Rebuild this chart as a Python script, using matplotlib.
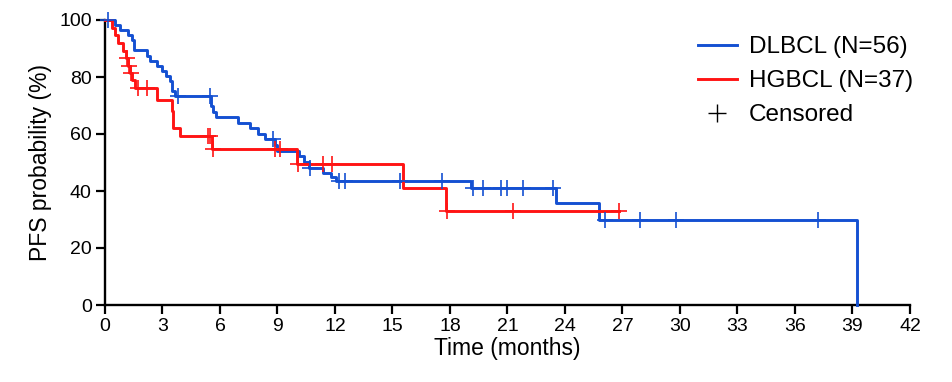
import numpy as np
import matplotlib
matplotlib.use("Agg")
import matplotlib.pyplot as plt

plt.rcParams['font.family'] = ['Liberation Sans', 'DejaVu Sans']

# ---- data ----
dlbcl_times = [0, 0.52, 0.78, 1.22, 1.40, 1.53, 2.17, 2.35, 2.70, 2.95, 3.20, 3.40, 3.50, 3.65,
               5.55, 5.65, 5.80, 6.96, 7.56, 8.00, 8.35, 8.85, 9.00, 10.10, 10.40, 10.65,
               11.40, 11.80, 12.05, 19.10, 23.55, 25.80, 39.26]
dlbcl_surv = [100, 98.2, 96.4, 94.6, 92.9, 89.3, 87.5, 85.7, 83.9, 82.1, 80.4, 78.6, 75.0, 73.2,
              69.7, 67.8, 65.9, 63.9, 62.0, 60.1, 58.2, 56.2, 54.2, 52.2, 50.2, 48.2,
              46.4, 45.0, 43.6, 41.0, 35.8, 29.9, 0]
dlbcl_censor = [0.15, 3.82, 5.48, 8.78, 10.72, 12.2, 12.5, 15.4, 17.6, 19.2, 19.7, 20.65,
                20.95, 21.8, 23.4, 26.1, 27.9, 29.8, 37.2]

hgbcl_times = [0, 0.35, 0.52, 0.70, 0.96, 1.10, 1.22, 1.30, 1.42, 1.55, 2.70, 3.47, 3.56,
               3.90, 5.56, 10.00, 15.56, 17.80, 26.80]
hgbcl_surv = [100, 97.3, 94.6, 91.9, 89.2, 86.5, 84.0, 81.4, 78.8, 76.2, 72.0, 68.2, 62.0,
              59.2, 54.6, 49.4, 41.2, 33.0, 33.0]
hgbcl_censor = [1.17, 1.26, 1.35, 1.74, 2.17, 5.39, 5.50, 5.65, 8.87, 9.13, 10.05, 11.4,
                11.85, 17.85, 21.3, 26.8]

labels = ['DLBCL (N=56)', 'HGBCL (N=37)', 'Censored']
x_ticks = list(range(0, 43, 3))
y_ticks = [0, 20, 40, 60, 80, 100]

blue = '#1450D2'
red = '#FF1414'

fig = plt.figure(figsize=(9.53, 3.82), dpi=100)
ax = fig.add_axes([105/953, 1-305/382, 805/953, 285/382])


def surv_at(times, surv, t):
    times = np.asarray(times)
    surv = np.asarray(surv)
    idx = np.searchsorted(times, t, side='right') - 1
    return surv[idx]


for times, surv, cens, col in [(dlbcl_times, dlbcl_surv, dlbcl_censor, blue),
                               (hgbcl_times, hgbcl_surv, hgbcl_censor, red)]:
    ax.step(times, surv, where='post', color=col, lw=2.1, clip_on=False, zorder=3)
    cy = surv_at(times, surv, np.asarray(cens))
    ax.plot(cens, cy, linestyle='none', marker='+', color=col, markersize=12,
            markeredgewidth=1.2, clip_on=False, zorder=4)

# legend
h1, = ax.plot([], [], color=blue, lw=2.1)
h2, = ax.plot([], [], color=red, lw=2.1)
h3, = ax.plot([], [], linestyle='none', marker='+', color='black', markersize=13,
              markeredgewidth=1.0)
leg = fig.legend([h1, h2, h3], labels, loc='upper left',
                 bbox_to_anchor=(698/953, 1-36/382), bbox_transform=fig.transFigure,
                 borderaxespad=0, borderpad=0, frameon=False, fontsize=17.5,
                 handlelength=1.6, handletextpad=0.5, labelspacing=0.5)

ax.set_xlim(0, 42)
ax.set_ylim(0, 100)
ax.set_xticks(x_ticks)
ax.set_yticks(y_ticks)
ax.tick_params(axis='both', which='major', labelsize=14, length=6.5, width=1.6,
               direction='out', color='black', pad=3)
for s in ['top', 'right']:
    ax.spines[s].set_visible(False)
for s in ['left', 'bottom']:
    ax.spines[s].set_linewidth(1.7)
ax.set_xlabel('Time (months)', fontsize=16.5, labelpad=1)
ax.set_ylabel('PFS probability (%)', fontsize=16.5, labelpad=5)

fig.savefig('out.png', dpi=100)
